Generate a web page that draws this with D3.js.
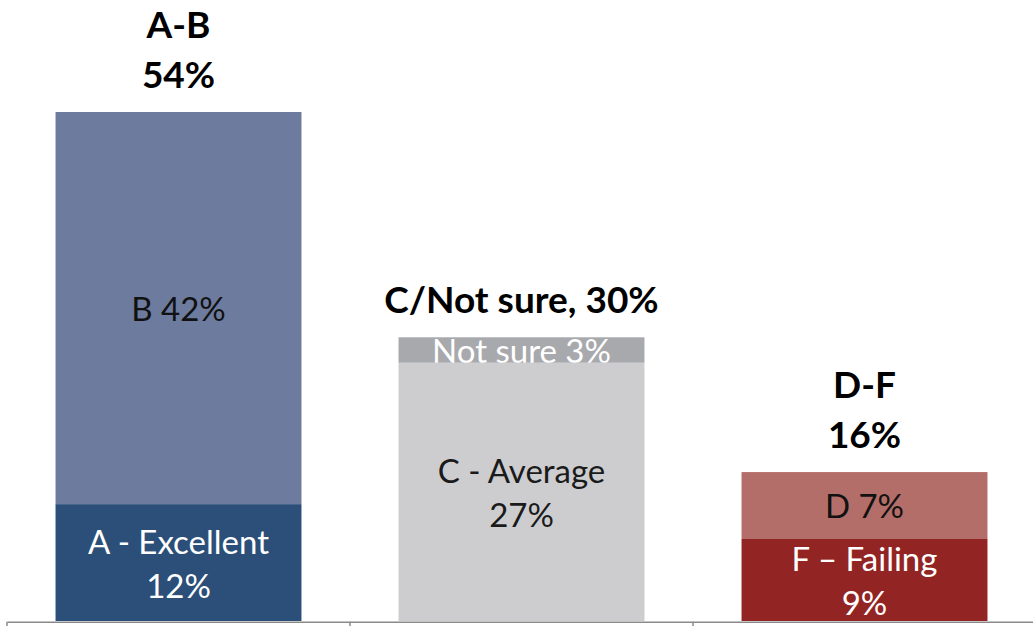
<!DOCTYPE html>
<html>
<head>
<meta charset="utf-8">
<script src="https://cdn.jsdelivr.net/npm/d3@7"></script>
<style>
  html, body { margin: 0; padding: 0; background: #fff; }
  svg { display: block; }
  text { font-family: Lato, "Open Sans", sans-serif; }
</style>
</head>
<body>
<svg id="chart" width="1033" height="626"></svg>
<script>
// ---- data ----
const categories = ["A-B", "C/Not sure", "D-F"];
const lowerValues = [12.4, 27.4, 8.7];   // A, C, F
const upperValues = [41.6, 2.7, 7.1];    // B, Not sure, D
const lowerLabels = [["A - Excellent", "12%"], ["C - Average", "27%"], ["F \u2013 Failing", "9%"]];
const upperLabels = [["B 42%"], ["Not sure 3%"], ["D 7%"]];
const headingLabels = [["A-B", "54%"], ["C/Not sure, 30%"], ["D-F", "16%"]];

// ---- styles ----
const lowerColors = ["#2b4f78", "#cdcdd0", "#922523"];
const upperColors = ["#6c7b9e", "#a8a9ad", "#b46e6a"];
const lowerTextColors = ["#ffffff", "#1a1a1a", "#ffffff"];
const upperTextColors = ["#111111", "#ffffff", "#111111"];

const W = 1033, H = 626;
const baseY = 621;
const svg = d3.select("#chart");

const totals = categories.map((c, i) => lowerValues[i] + upperValues[i]);

const x = d3.scaleBand()
  .domain(categories)
  .range([7, 1036])
  .paddingInner(0.283)
  .paddingOuter(0.1415);

const y = d3.scaleLinear()
  .domain([0, d3.max(totals)])
  .range([baseY, 112]);

const rows = categories.map((c, i) => ({
  c, i,
  lo: lowerValues[i], up: upperValues[i], total: totals[i]
}));

const innerSize = 33, innerCap = 23, innerLine = 44;
const headSize = 37, headLine = 50;

// bars
const g = svg.append("g");
g.selectAll("rect.lower").data(rows).join("rect")
  .attr("class", "lower")
  .attr("x", d => x(d.c)).attr("width", x.bandwidth())
  .attr("y", d => y(d.lo)).attr("height", d => y(0) - y(d.lo))
  .attr("fill", d => lowerColors[d.i]);
g.selectAll("rect.upper").data(rows).join("rect")
  .attr("class", "upper")
  .attr("x", d => x(d.c)).attr("width", x.bandwidth())
  .attr("y", d => y(d.total)).attr("height", d => y(d.lo) - y(d.total))
  .attr("fill", d => upperColors[d.i]);

// clip paths for upper labels (clipped at segment bottom)
const defs = svg.append("defs");
rows.forEach(d => {
  defs.append("clipPath").attr("id", "clipUp" + d.i)
    .append("rect")
    .attr("x", x(d.c)).attr("width", x.bandwidth())
    .attr("y", y(d.total) - 30).attr("height", y(d.lo) - y(d.total) + 30);
});

function drawLines(sel, lines, cx, midY, size, cap, lineH, color, weight) {
  const n = lines.length;
  lines.forEach((t, k) => {
    const cy = midY + (k - (n - 1) / 2) * lineH;
    sel.append("text")
      .attr("x", cx).attr("y", cy + cap / 2)
      .attr("text-anchor", "middle")
      .attr("font-size", size)
      .attr("font-weight", weight)
      .attr("fill", color)
      .text(t);
  });
}

rows.forEach(d => {
  const cx = x(d.c) + x.bandwidth() / 2;
  // lower segment label
  drawLines(svg.append("g"), lowerLabels[d.i], cx, (y(0) + y(d.lo)) / 2 + 1.5,
    innerSize, innerCap, innerLine, lowerTextColors[d.i], 400);
  // upper segment label
  drawLines(svg.append("g").attr("clip-path", "url(#clipUp" + d.i + ")"),
    upperLabels[d.i], cx, (y(d.lo) + y(d.total)) / 2 + 1,
    innerSize, innerCap, innerLine, upperTextColors[d.i], 400);
  // heading above bar
  const hl = headingLabels[d.i];
  hl.forEach((t, k) => {
    svg.append("text")
      .attr("x", cx)
      .attr("y", y(d.total) - 24 - (hl.length - 1 - k) * headLine)
      .attr("text-anchor", "middle")
      .attr("font-size", headSize)
      .attr("font-weight", 700)
      .attr("fill", "#000")
      .text(t);
  });
});

// axis
const axis = d3.axisBottom(x).tickSize(0).tickSizeOuter(0).tickFormat("");
const ax = svg.append("g").attr("transform", `translate(0,${baseY + 0.75})`).call(axis);
ax.select(".domain").attr("stroke", "#8a8a8a").attr("stroke-width", 1.5);
ax.selectAll(".tick").remove();
const step = x.step();
const boundaries = categories.map(c => x(c) - step * x.paddingInner() / 2);
ax.selectAll("line.bound").data(boundaries).join("line")
  .attr("class", "bound")
  .attr("x1", d => d).attr("x2", d => d)
  .attr("y1", 0).attr("y2", 6)
  .attr("stroke", "#8a8a8a").attr("stroke-width", 1.5);
</script>
</body>
</html>
